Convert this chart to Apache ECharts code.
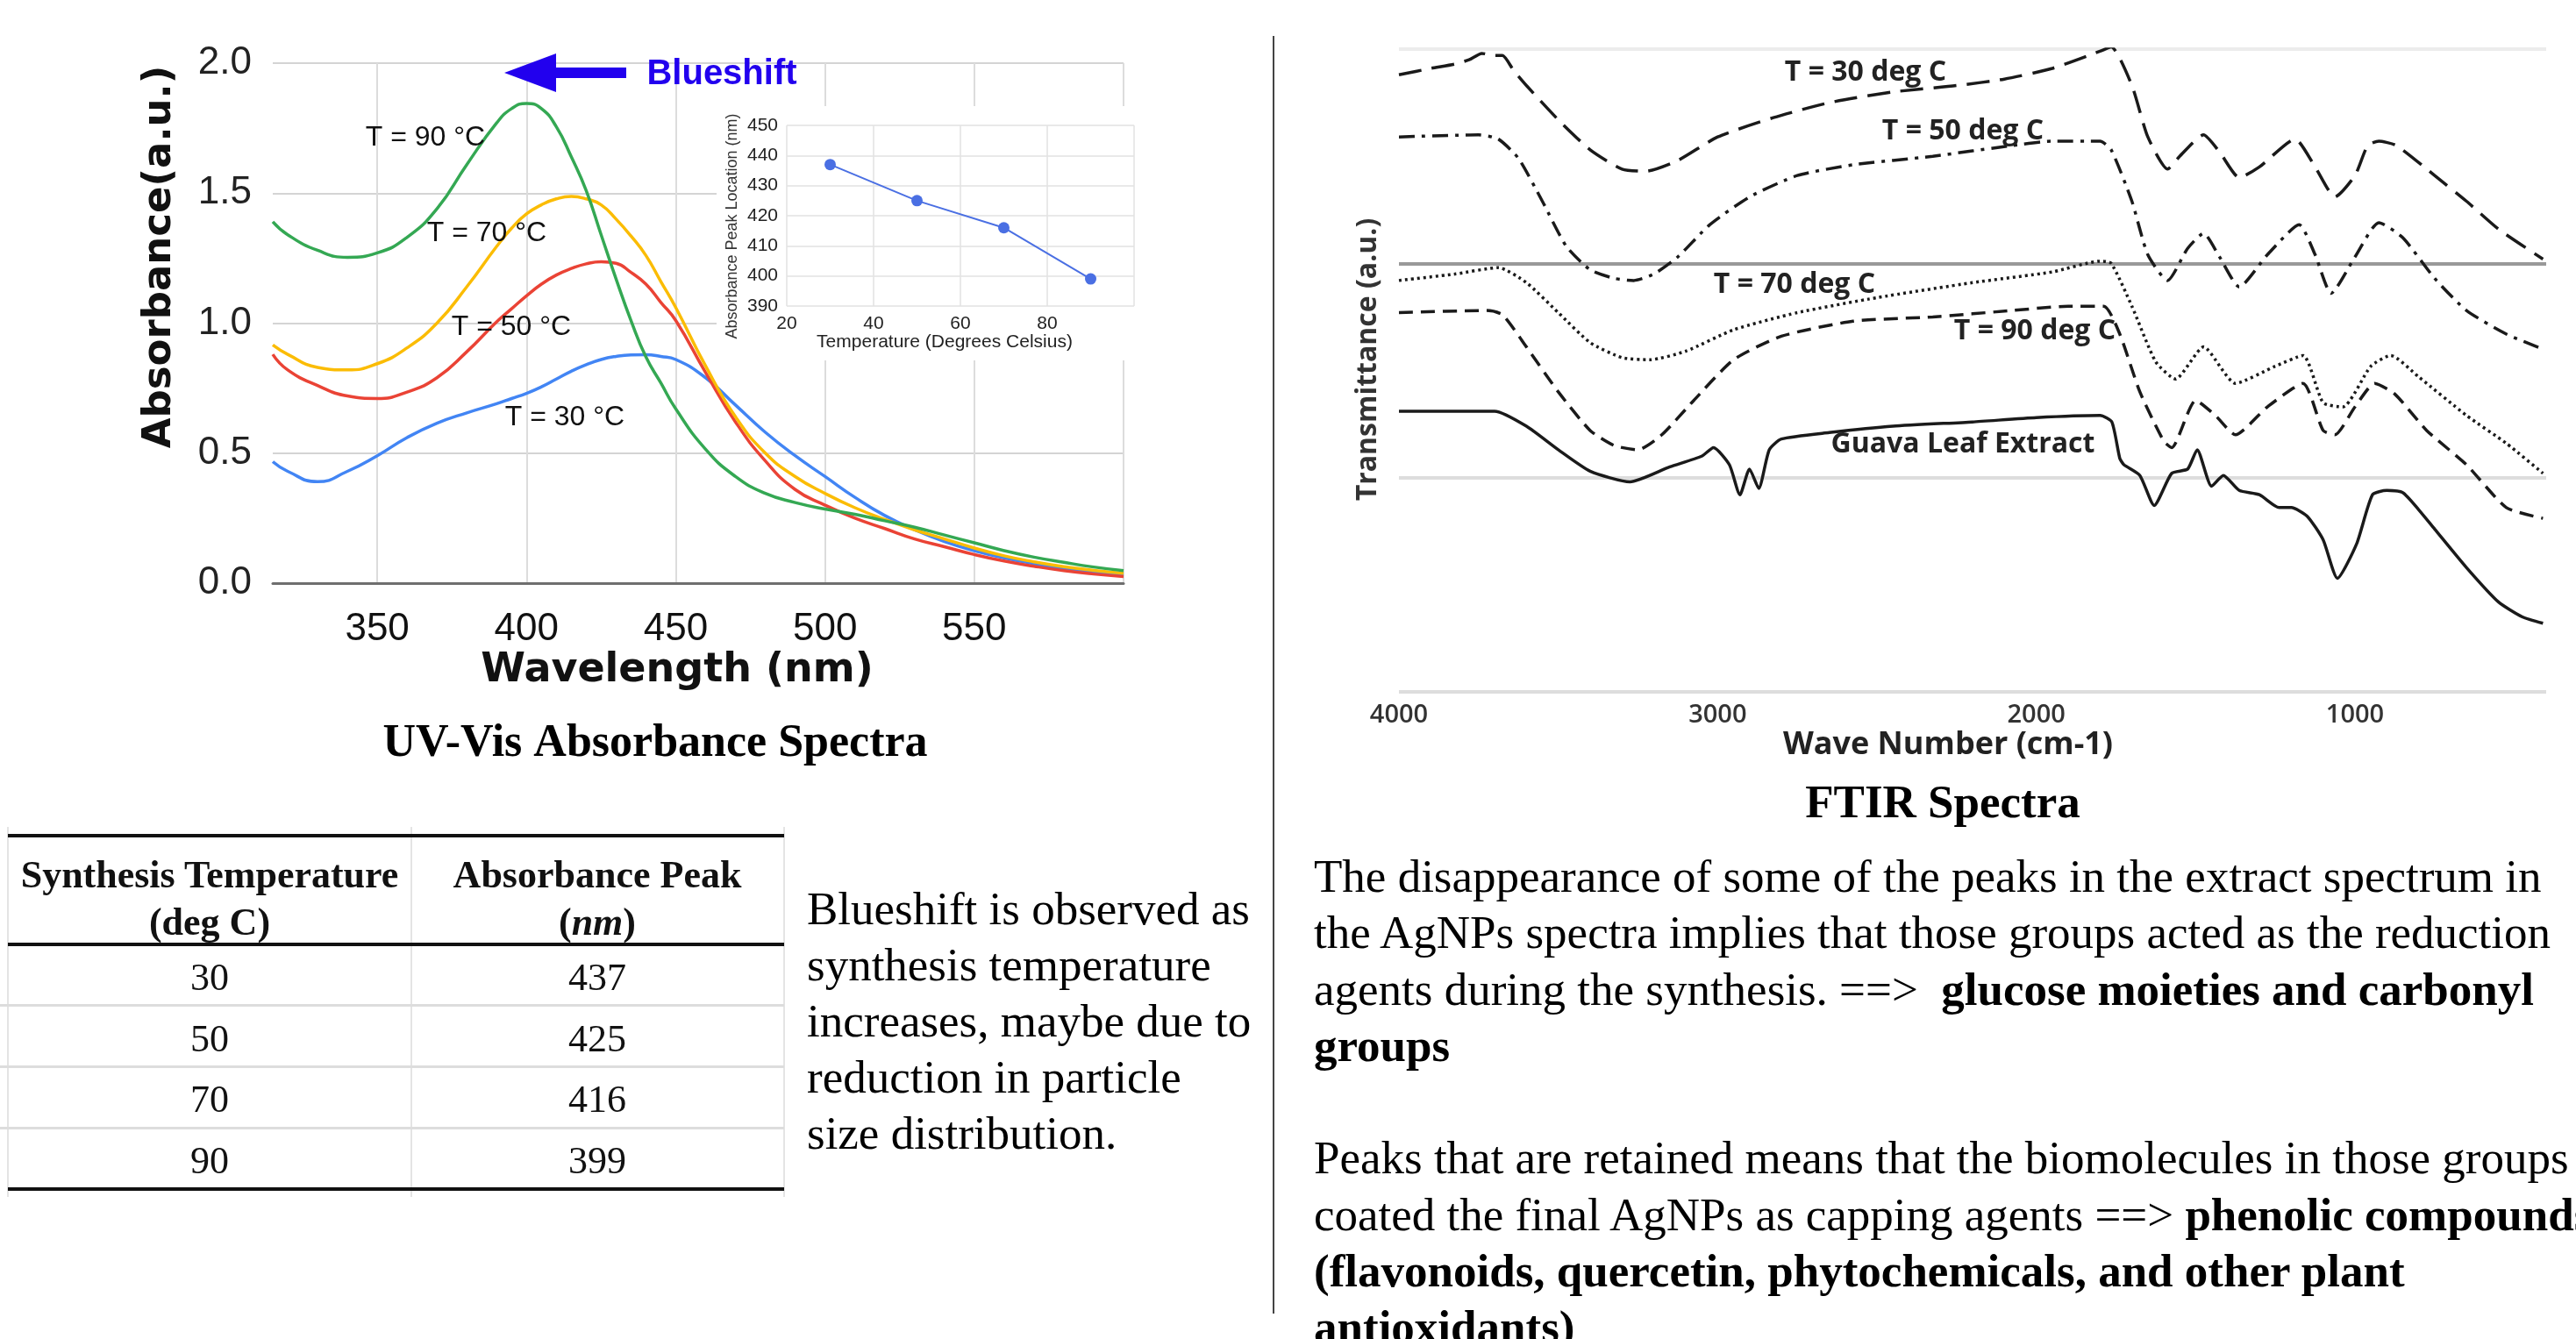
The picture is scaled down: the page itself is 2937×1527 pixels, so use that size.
<!DOCTYPE html>
<html>
<head>
<meta charset="utf-8">
<title>UV-Vis and FTIR spectra</title>
<script src="https://cdn.jsdelivr.net/npm/echarts@6/dist/echarts.min.js"></script>
<style>
  html, body { margin: 0; padding: 0; background: #fff; width: 2937px; height: 1527px; overflow: hidden; }
  #chart { position: absolute; left: 0; top: 0; width: 2937px; height: 1527px; }
  .txt { position: absolute; font-family: 'Liberation Serif', 'Times New Roman', serif; color: #000; white-space: nowrap; }
  .cell { position: absolute; text-align: center; font-family: 'Liberation Serif', 'Times New Roman', serif;
          font-size: 44px; height: 60px; line-height: 60px; white-space: nowrap; color: #111; }
  .rule { position: absolute; }
</style>
</head>
<body>
<div id="chart"></div>
<div id="table"></div>
<div class="txt" style="left:920px; top:1004px; font-size:53px; line-height:64px;">Blueshift is observed as<br>synthesis temperature<br>increases, maybe due to<br>reduction in particle<br>size distribution.</div>
<div class="txt" style="left:1498px; top:967px; font-size:53px; line-height:64.3px;">The disappearance of some of the peaks in the extract spectrum in<br>the AgNPs spectra implies that those groups acted as the reduction<br>agents during the synthesis. ==&gt;&nbsp; <b>glucose moieties and carbonyl</b><br><b>groups</b><br><br>Peaks that are retained means that the biomolecules in those groups<br>coated the final AgNPs as capping agents ==&gt; <b>phenolic compounds</b><br><b>(flavonoids, quercetin, phytochemicals, and other plant</b><br><b>antioxidants)</b></div>
<div class="rule" style="left:1451px; top:41px; width:2px; height:1457px; background:#444;"></div>
<script>
// UV-Vis absorbance (a.u.)
var wavelengthNm = [315, 320, 330, 340, 350, 360, 370, 380, 390, 395, 400, 405, 410, 415, 420, 425, 430, 435, 440, 445,
                    450, 460, 470, 480, 490, 500, 510, 520, 530, 540, 550, 560, 570, 580, 590, 600];
var abs30 = [0.467, 0.43, 0.39, 0.43, 0.49, 0.56, 0.615, 0.655, 0.69, 0.71, 0.73, 0.755, 0.785, 0.815, 0.84, 0.86, 0.872, 0.878, 0.879, 0.872,
             0.86, 0.79, 0.685, 0.58, 0.49, 0.41, 0.33, 0.26, 0.205, 0.16, 0.125, 0.097, 0.075, 0.056, 0.042, 0.031];
var abs50 = [0.88, 0.82, 0.76, 0.72, 0.71, 0.735, 0.79, 0.89, 1.005, 1.055, 1.105, 1.15, 1.185, 1.21, 1.228, 1.236, 1.23, 1.195, 1.15, 1.08,
             1.01, 0.81, 0.62, 0.47, 0.36, 0.30, 0.25, 0.21, 0.17, 0.14, 0.11, 0.085, 0.065, 0.048, 0.035, 0.025];
var abs70 = [0.916, 0.88, 0.83, 0.82, 0.844, 0.905, 1.00, 1.14, 1.295, 1.365, 1.42, 1.455, 1.478, 1.487, 1.478, 1.455, 1.40, 1.335, 1.26, 1.16,
             1.06, 0.835, 0.64, 0.50, 0.41, 0.345, 0.29, 0.245, 0.205, 0.17, 0.135, 0.105, 0.082, 0.063, 0.049, 0.038];
var abs90 = [1.39, 1.34, 1.28, 1.253, 1.27, 1.33, 1.44, 1.61, 1.77, 1.825, 1.845, 1.825, 1.755, 1.64, 1.51, 1.34, 1.17, 1.01, 0.87, 0.77,
             0.67, 0.515, 0.41, 0.345, 0.31, 0.285, 0.265, 0.24, 0.215, 0.185, 0.155, 0.125, 0.10, 0.08, 0.062, 0.048];
var uvLabelNm = [350, 400, 450, 500, 550];
var uvGridNm = [350, 400, 450, 500, 550, 600];

// peak location vs synthesis temperature (inset + table)
var tempC = [30, 50, 70, 90];
var peakNm = [437, 425, 416, 399];

// FTIR traces [wave number, transmittance offset a.u.]
var ftirTicks = [4000, 3000, 2000, 1000];
var ftir30 = [[4000, 2.88], [3900, 2.91], [3825, 2.93], [3780, 2.95], [3740, 2.98], [3700, 2.97], [3675, 2.97],
  [3640, 2.90], [3600, 2.83], [3500, 2.67], [3400, 2.53], [3300, 2.44], [3225, 2.43], [3125, 2.48], [3000, 2.59],
  [2825, 2.68], [2650, 2.75], [2450, 2.80], [2250, 2.83], [2100, 2.86], [1950, 2.91], [1800, 2.99], [1765, 3.01],
  [1700, 2.83], [1650, 2.59], [1588, 2.44], [1550, 2.50], [1475, 2.60], [1425, 2.52], [1363, 2.40], [1300, 2.45],
  [1188, 2.58], [1125, 2.45], [1063, 2.31], [1000, 2.41], [960, 2.55], [925, 2.57], [870, 2.55], [750, 2.41],
  [650, 2.29], [550, 2.16], [410, 2.02]];
var ftir50 = [[4000, 2.59], [3750, 2.60], [3688, 2.58], [3625, 2.49], [3550, 2.29], [3475, 2.08], [3400, 1.97],
  [3325, 1.93], [3263, 1.92], [3200, 1.95], [3125, 2.03], [3025, 2.18], [2900, 2.31], [2750, 2.41], [2575, 2.46],
  [2325, 2.50], [2075, 2.55], [1950, 2.57], [1800, 2.57], [1765, 2.53], [1700, 2.29], [1650, 2.04], [1588, 1.92],
  [1525, 2.07], [1475, 2.14], [1425, 2.03], [1363, 1.89], [1275, 2.04], [1175, 2.18], [1125, 2.04], [1075, 1.86],
  [1000, 2.03], [925, 2.19], [850, 2.12], [750, 1.93], [650, 1.78], [525, 1.67], [410, 1.60]];
var ftir70 = [[4000, 1.92], [3825, 1.95], [3688, 1.98], [3600, 1.91], [3500, 1.77], [3400, 1.63], [3300, 1.56],
  [3213, 1.55], [3100, 1.59], [2950, 1.69], [2750, 1.77], [2500, 1.84], [2200, 1.91], [1950, 1.96], [1800, 2.01],
  [1765, 2.00], [1700, 1.80], [1625, 1.54], [1563, 1.46], [1475, 1.61], [1375, 1.44], [1250, 1.52], [1163, 1.57],
  [1100, 1.35], [1038, 1.33], [950, 1.52], [888, 1.57], [800, 1.47], [650, 1.29], [525, 1.16], [410, 1.02]];
var ftir90 = [[4000, 1.77], [3725, 1.78], [3675, 1.76], [3600, 1.61], [3500, 1.40], [3400, 1.22], [3325, 1.15],
  [3250, 1.13], [3175, 1.20], [3075, 1.36], [2950, 1.55], [2800, 1.66], [2575, 1.73], [2325, 1.75], [2075, 1.78],
  [1900, 1.80], [1788, 1.80], [1738, 1.67], [1675, 1.40], [1600, 1.17], [1575, 1.14], [1500, 1.36], [1438, 1.29],
  [1375, 1.20], [1275, 1.33], [1163, 1.44], [1100, 1.22], [1063, 1.20], [1000, 1.33], [938, 1.44], [875, 1.39],
  [775, 1.22], [650, 1.06], [525, 0.86], [410, 0.81]];
var guava = [[4000, 1.31], [3700, 1.31], [3600, 1.24], [3500, 1.13], [3400, 1.03], [3275, 0.98], [3150, 1.05],
  [3050, 1.10], [3013, 1.14], [2963, 1.06], [2930, 0.92], [2900, 1.04], [2871, 0.95], [2838, 1.13], [2800, 1.18],
  [2650, 1.21], [2450, 1.24], [2200, 1.26], [2000, 1.28], [1800, 1.29], [1763, 1.26], [1738, 1.09], [1725, 1.06],
  [1675, 1.01], [1630, 0.87], [1575, 1.02], [1525, 1.04], [1495, 1.13], [1450, 0.96], [1413, 1.01], [1363, 0.94],
  [1300, 0.92], [1238, 0.86], [1200, 0.86], [1150, 0.82], [1100, 0.71], [1055, 0.53], [995, 0.69], [945, 0.92],
  [900, 0.94], [850, 0.93], [800, 0.85], [750, 0.76], [650, 0.58], [550, 0.42], [475, 0.35], [410, 0.32]];

function pairs(xs, ys) {
    return xs.map(function (x, i) { return [x, ys[i]]; });
}

function label(text, x, y, font, color, rotation) {
    return {
        type: 'text', x: x, y: y, rotation: rotation || 0, z: 10,
        style: {
            text: text, font: font, fill: color || '#111',
            align: 'center', verticalAlign: 'middle',
            textAlign: 'center', textVerticalAlign: 'middle'
        }
    };
}

function uvLine(name, values, color) {
    return {
        name: name, type: 'line', xAxisIndex: 0, yAxisIndex: 0,
        data: pairs(wavelengthNm, values), smooth: 0.5, showSymbol: false, z: 2,
        lineStyle: { color: color, width: 3.5 }
    };
}

function ftirLine(name, data, dash) {
    return {
        name: name, type: 'line', xAxisIndex: 2, yAxisIndex: 2,
        data: data, smooth: 0.2, showSymbol: false, z: 2,
        lineStyle: { color: '#1a1a1a', width: 3.5, type: dash }
    };
}

var sans = "'Liberation Sans', Arial, sans-serif";
var openBold = "bold 32px 'Open Sans'";

var option = {
    animation: false,
    backgroundColor: '#fff',
    grid: [
        { left: 311, top: 72, width: 970, height: 593 },
        { left: 897, top: 143, width: 396, height: 206 },
        { left: 1595, top: 56, width: 1308, height: 733 }
    ],
    xAxis: [
        {
            gridIndex: 0, type: 'value', min: 315, max: 600,
            axisLine: { show: true, lineStyle: { color: '#6e6e6e', width: 3 } },
            axisTick: { show: false, customValues: uvGridNm },
            axisLabel: { customValues: uvLabelNm, margin: 31, fontSize: 44, color: '#111', fontFamily: sans },
            splitLine: { show: true, lineStyle: { color: '#dcdcdc', width: 2 } }
        },
        {
            gridIndex: 1, type: 'value', min: 20, max: 100, interval: 20, z: 5,
            axisLine: { show: false }, axisTick: { show: false },
            axisLabel: { margin: 10, fontSize: 21, color: '#222', fontFamily: sans, showMaxLabel: false },
            splitLine: { show: true, lineStyle: { color: '#e2e2e2', width: 1.5 } }
        },
        {
            gridIndex: 2, type: 'value', min: 400, max: 4000, inverse: true,
            axisLine: { show: false },
            axisTick: { show: false, customValues: ftirTicks },
            axisLabel: { customValues: ftirTicks, margin: 12, fontSize: 29, color: '#333',
                         fontFamily: "'Open Sans', sans-serif", fontWeight: 600,
                         formatter: function (v) { return String(v); } },
            splitLine: { show: false }
        }
    ],
    yAxis: [
        {
            gridIndex: 0, type: 'value', min: 0, max: 2, interval: 0.5,
            axisLine: { show: false }, axisTick: { show: false },
            axisLabel: { margin: 24, fontSize: 44, color: '#222', fontFamily: sans,
                         formatter: function (v) { return v.toFixed(1); } },
            splitLine: { show: true, lineStyle: { color: '#d4d4d4', width: 2 } }
        },
        {
            gridIndex: 1, type: 'value', min: 390, max: 450, interval: 10, z: 5,
            axisLine: { show: false }, axisTick: { show: false },
            axisLabel: { margin: 10, fontSize: 21, color: '#222', fontFamily: sans },
            splitLine: { show: true, lineStyle: { color: '#e2e2e2', width: 1.5 } }
        },
        {
            gridIndex: 2, type: 'value', min: 0, max: 3, interval: 1,
            axisLine: { show: false }, axisTick: { show: false }, axisLabel: { show: false },
            splitLine: { show: true, lineStyle: { color: ['#dddddd', '#dddddd', '#999999', '#ececec'], width: 4 } }
        }
    ],
    series: [
        uvLine('T = 30', abs30, '#4285f4'),
        uvLine('T = 50', abs50, '#ea4335'),
        uvLine('T = 70', abs70, '#fbbc04'),
        uvLine('T = 90', abs90, '#34a853'),
        {
            name: 'peak', type: 'line', xAxisIndex: 1, yAxisIndex: 1, z: 6,
            data: pairs(tempC, peakNm), symbol: 'circle', symbolSize: 13,
            itemStyle: { color: '#4a6fe3' },
            lineStyle: { color: '#4a6fe3', width: 2 }
        },
        ftirLine('T = 30 deg C', ftir30, [26, 12]),
        ftirLine('T = 50 deg C', ftir50, [18, 8, 4, 8]),
        ftirLine('T = 70 deg C', ftir70, [3, 4]),
        ftirLine('T = 90 deg C', ftir90, [16, 9]),
        ftirLine('Guava Leaf Extract', guava, 'solid')
    ],
    graphic: [
        // white box behind the inset
        { type: 'rect', z: 3, shape: { x: 817, y: 121, width: 484, height: 290 }, style: { fill: '#fff' } },
        // blueshift arrow
        { type: 'polygon', z: 10, shape: { points: [[575, 83], [634, 61], [634, 105]] }, style: { fill: '#2200ee' } },
        { type: 'rect', z: 10, shape: { x: 630, y: 77, width: 84, height: 12 }, style: { fill: '#2200ee' } },
        label('Blueshift', 823, 85, "bold 40px 'Liberation Sans', Arial", '#2200ee'),
        label('T = 90 °C', 485, 157, '32px ' + sans),
        label('T = 70 °C', 555, 266, '32px ' + sans),
        label('T = 50 °C', 583, 373, '32px ' + sans),
        label('T = 30 °C', 644, 476, '32px ' + sans),
        label('Absorbance(a.u.)', 182, 293, "bold 45px 'DejaVu Sans'", '#111', Math.PI / 2),
        label('Wavelength (nm)', 772, 765, "bold 46px 'DejaVu Sans'", '#111'),
        label('Temperature (Degrees Celsius)', 1077, 390, '21px ' + sans, '#222'),
        label('Absorbance Peak Location (nm)', 835, 258, '18px ' + sans, '#333', Math.PI / 2),
        label('UV-Vis Absorbance Spectra', 747, 849, "bold 52px 'Liberation Serif'", '#000'),
        label('T = 30 deg C', 2127, 83, openBold, '#222'),
        label('T = 50 deg C', 2238, 150, openBold, '#222'),
        label('T = 70 deg C', 2046, 325, openBold, '#222'),
        label('T = 90 deg C', 2320, 378, openBold, '#222'),
        label('Guava Leaf Extract', 2238, 507, openBold, '#222'),
        label('Transmittance (a.u.)', 1560, 410, "bold 32px 'Open Sans'", '#333', Math.PI / 2),
        label('Wave Number (cm-1)', 2221, 850, "bold 36px 'Open Sans'", '#222'),
        label('FTIR Spectra', 2215, 918, "bold 53px 'Liberation Serif'", '#000')
    ]
};

var chart = echarts.init(document.getElementById('chart'));
chart.setOption(option);

// table of peak positions, built from the same arrays
var table = document.getElementById('table');
function addRule(x, y, w, h, color) {
    var d = document.createElement('div');
    d.className = 'rule';
    d.style.cssText = 'left:' + x + 'px;top:' + y + 'px;width:' + w + 'px;height:' + h + 'px;background:' + color + ';';
    table.appendChild(d);
}
function addCell(html, cx, cy, w, bold) {
    var d = document.createElement('div');
    d.className = 'cell';
    d.style.left = (cx - w / 2) + 'px';
    d.style.top = (cy - 30) + 'px';
    d.style.width = w + 'px';
    if (bold) d.style.fontWeight = 'bold';
    d.innerHTML = html;
    table.appendChild(d);
}
[9, 469, 894].forEach(function (x) { addRule(x - 1, 943, 2, 422, '#e4e4e4'); });
addRule(9, 951, 885, 4, '#111');
addRule(9, 1075, 885, 4, '#111');
addRule(9, 1354, 885, 4, '#111');
[1146, 1216, 1286].forEach(function (y) { addRule(0, y - 1, 894, 3, '#dddddd'); });
addCell('Synthesis Temperature', 239, 998, 460, true);
addCell('(deg C)', 239, 1052, 460, true);
addCell('Absorbance Peak', 681, 998, 425, true);
addCell('(<i>nm</i>)', 681, 1052, 425, true);
tempC.forEach(function (t, i) {
    var cy = 1115 + i * 69.5;
    addCell(String(t), 239, cy, 460, false);
    addCell(String(peakNm[i]), 681, cy, 425, false);
});
</script>
</body>
</html>
